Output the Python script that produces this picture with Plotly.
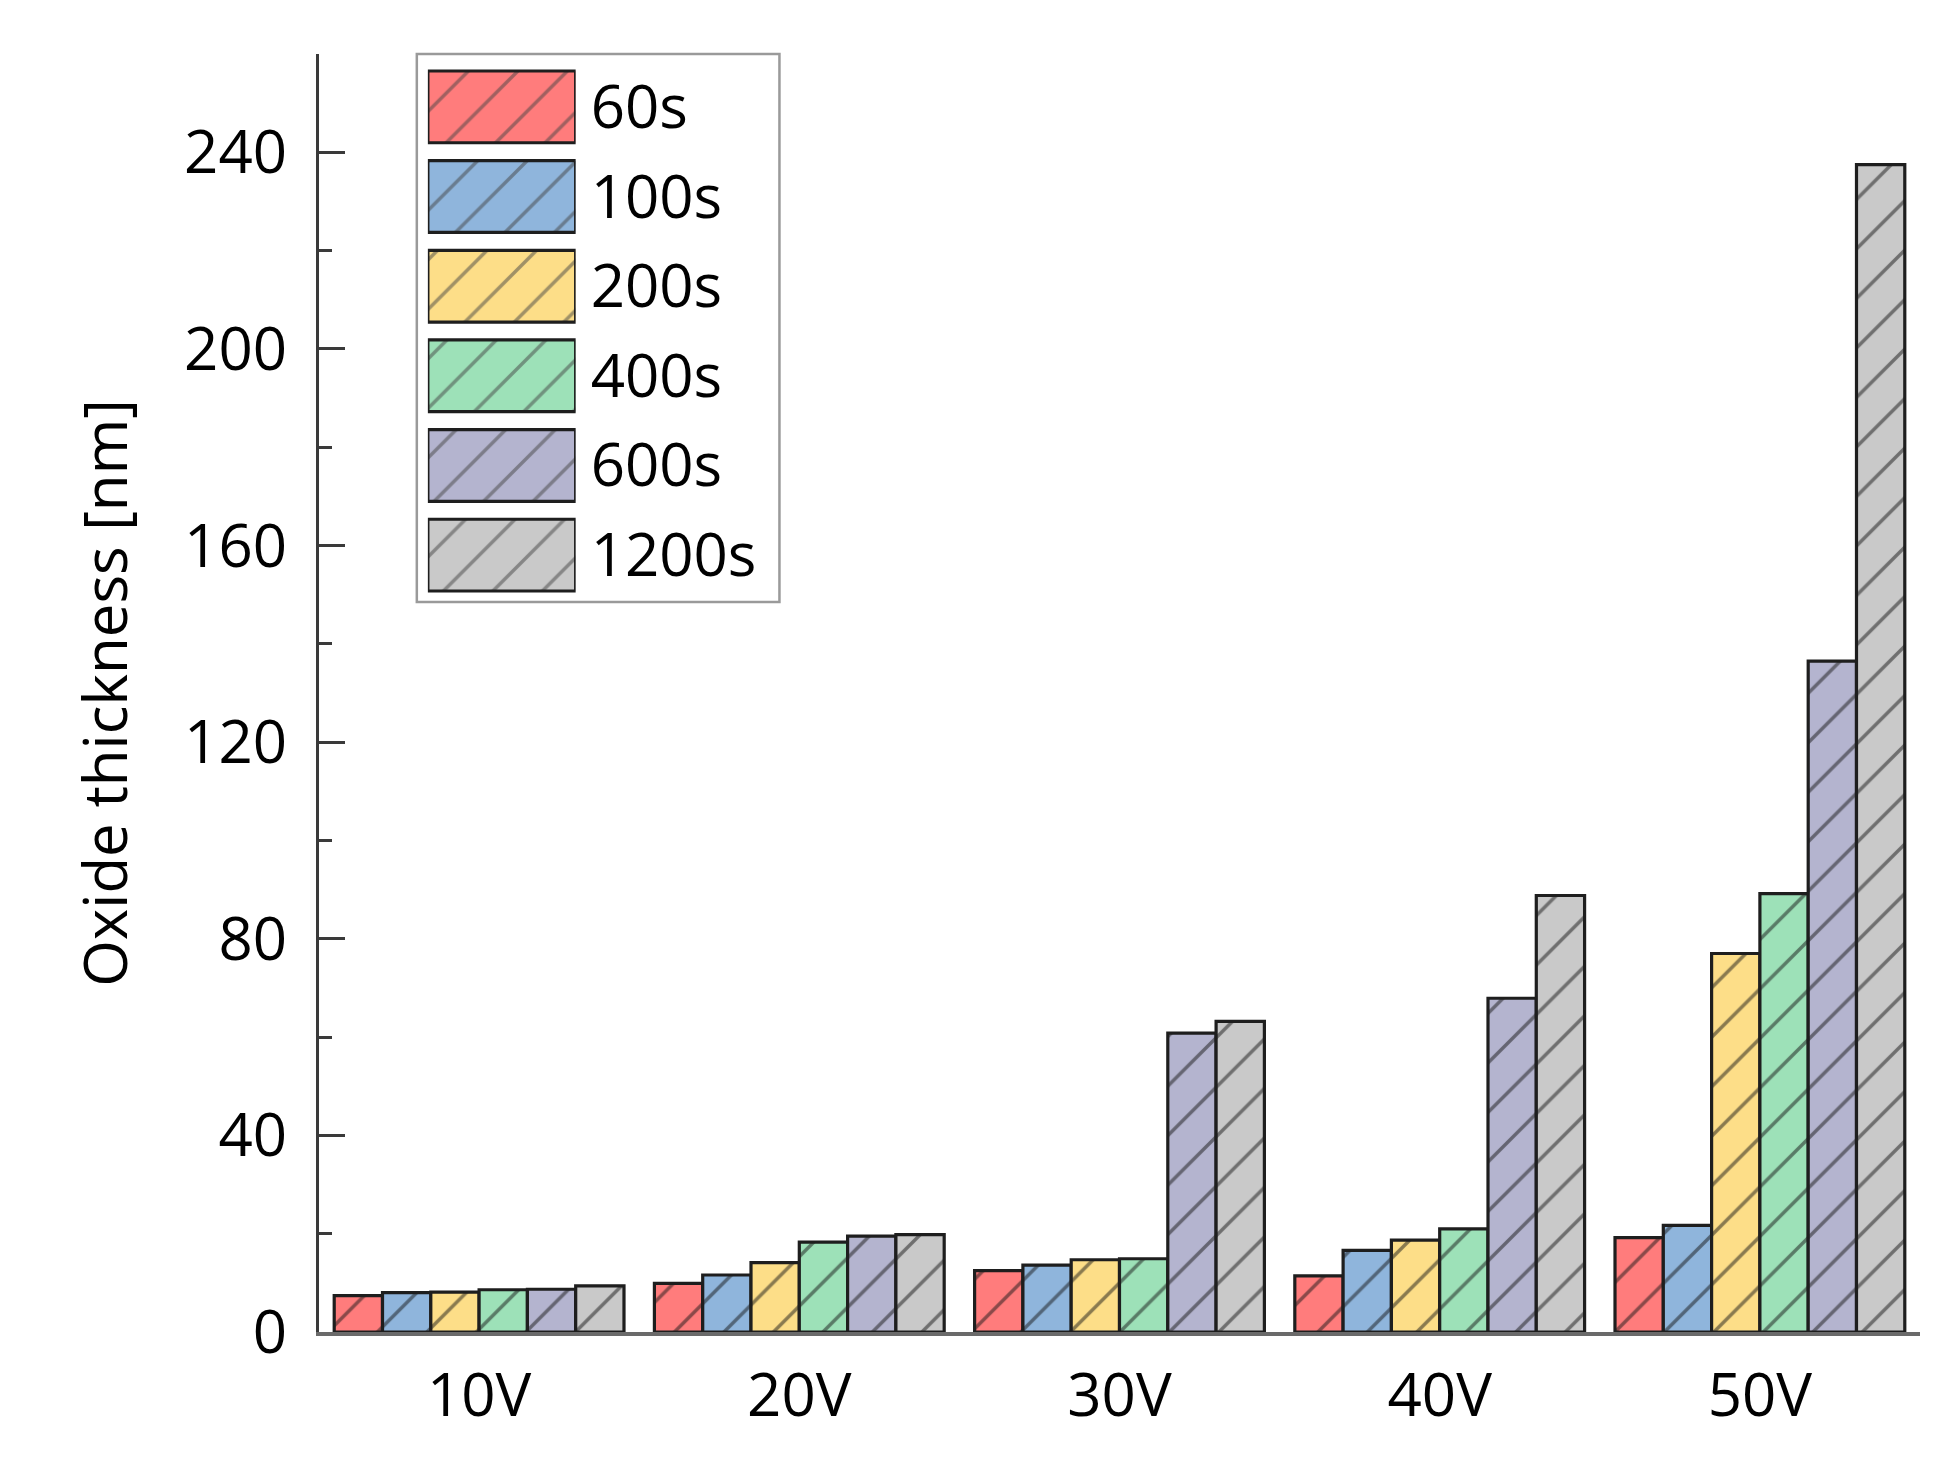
import plotly.graph_objects as go

# ---- data ----
voltages = ["10V", "20V", "30V", "40V", "50V"]
times = ["60s", "100s", "200s", "400s", "600s", "1200s"]
t60 = [7.4, 9.9, 12.5, 11.4, 19.2]
t100 = [8.0, 11.6, 13.6, 16.6, 21.7]
t200 = [8.1, 14.1, 14.7, 18.7, 77.0]
t400 = [8.6, 18.3, 14.9, 21.0, 89.2]
t600 = [8.7, 19.5, 60.8, 67.9, 136.5]
t1200 = [9.4, 19.8, 63.2, 88.8, 237.5]
series = [t60, t100, t200, t400, t600, t1200]
colors = ["#FF7C7C", "#8FB5DC", "#FDDE88", "#9DE1B8", "#B4B4CF", "#C9C9C9"]
yticks = [0, 40, 80, 120, 160, 200, 240]

FONT = "Open Sans"
FS = 60
pattern = dict(shape="/", fgcolor="#151515", size=35, solidity=0.1, fillmode="overlay")

fig = go.Figure()
for name, vals, col in zip(times, series, colors):
    fig.add_trace(go.Bar(
        x=voltages, y=vals, name=name,
        marker=dict(color=col, line=dict(color="#1e1e1e", width=3.2), pattern=pattern),
        showlegend=False, xaxis="x", yaxis="y",
    ))

# legend drawn as an inset bar chart (large hatched swatches)
fig.add_trace(go.Bar(
    y=times, x=[1] * len(times), orientation="h", width=0.8,
    marker=dict(color=colors, line=dict(color="#1e1e1e", width=3.2), pattern=pattern),
    showlegend=False, xaxis="x2", yaxis="y2", cliponaxis=False, hoverinfo="skip",
))

fig.update_layout(
    width=1952, height=1470,
    margin=dict(l=311, r=40, t=46, b=146),
    paper_bgcolor="white", plot_bgcolor="white",
    font=dict(family=FONT, size=FS, color="black"),
    barmode="group", bargap=0.095, bargroupgap=0,
    xaxis=dict(
        type="category", categoryorder="array", categoryarray=voltages,
        range=[-0.5, 4.5], showline=True, linecolor="#6a6a6a", linewidth=4,
        ticks="", showgrid=False, zeroline=False,
        tickfont=dict(family=FONT, size=FS), ticklabelstandoff=8,
    ),
    yaxis=dict(
        range=[0, 260], tickmode="array", tickvals=yticks,
        ticks="inside", ticklen=26, tickwidth=3, tickcolor="#3a3a3a",
        showline=True, linewidth=3, linecolor="#3a3a3a",
        showgrid=False, zeroline=False,
        tickfont=dict(family=FONT, size=FS), ticklabelstandoff=17,
        minor=dict(ticks="inside", ticklen=13, tickwidth=3, tickcolor="#3a3a3a",
                   tickmode="array", tickvals=[20, 60, 100, 140, 180, 220, 260], showgrid=False),
        title=dict(text="Oxide thickness [nm]", font=dict(family=FONT, size=FS), standoff=38),
    ),
    xaxis2=dict(domain=[0.068, 0.1603], anchor="y2", range=[0, 1], visible=False, fixedrange=True),
    yaxis2=dict(
        domain=[0.5728, 0.9937], anchor="x2", type="category",
        categoryorder="array", categoryarray=times, autorange="reversed",
        side="right", showline=False, ticks="", showgrid=False, zeroline=False,
        tickfont=dict(family=FONT, size=FS), ticklabelstandoff=14,
    ),
    shapes=[dict(type="rect", xref="paper", yref="paper",
                 x0=0.0611, x1=0.2876, y0=0.5712, y1=1.0,
                 line=dict(color="#9a9a9a", width=2.5), fillcolor="rgba(0,0,0,0)")],
)

fig.write_html("out.html")
